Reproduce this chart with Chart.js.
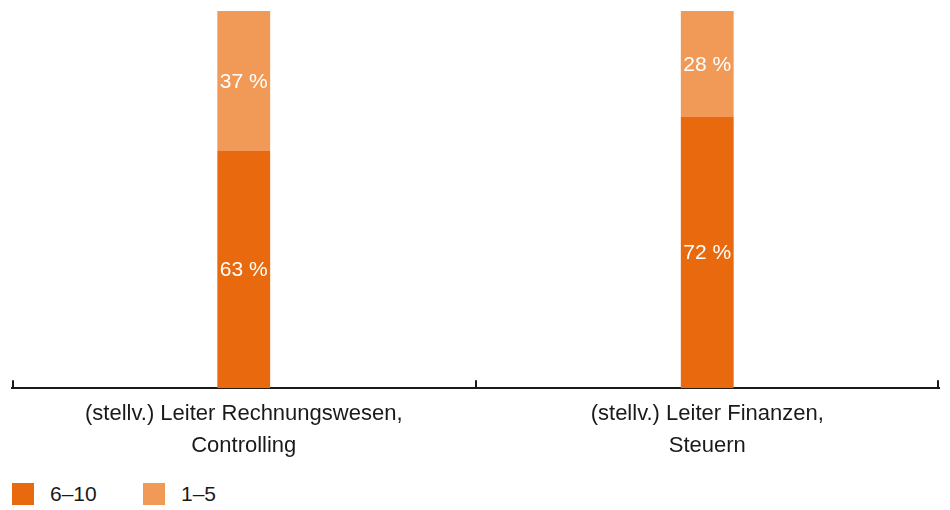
<!DOCTYPE html>
<html>
<head>
<meta charset="utf-8">
<script src="https://cdn.jsdelivr.net/npm/chart.js@4/dist/chart.umd.min.js"></script>
<style>
  html, body { margin:0; padding:0; background:#fff; }
  body { width:950px; height:510px; position:relative; overflow:hidden; font-family:"Liberation Sans", Arial, sans-serif; }
  #wrap { position:absolute; left:0; top:0; width:950px; height:464px; }
  .legend { position:absolute; top:483px; left:12px; display:flex; font-size:21px; color:#1a1a1a; }
  .legend .item { display:flex; align-items:center; height:22px; }
  .legend .box { width:22px; height:22px; margin-right:16px; }
</style>
</head>
<body>
<div id="wrap"><canvas id="chart" width="950" height="464"></canvas></div>
<div class="legend" id="legend"></div>
<script>
// Daten
const categories = [
  ['(stellv.) Leiter Rechnungswesen,', 'Controlling'],
  ['(stellv.) Leiter Finanzen,', 'Steuern']
];
const seriesNames = ['6–10', '1–5'];
const values6to10 = [63, 72];
const values1to5 = [37, 28];
const colors = ['#E9690E', '#F19A57'];

const labelPlugin = {
  id: 'barLabels',
  afterDatasetsDraw(chart) {
    let ctx = chart.ctx;
    ctx.save();
    ctx.fillStyle = '#fff';
    ctx.font = '21px "Liberation Sans", Arial, sans-serif';
    ctx.textAlign = 'center';
    ctx.textBaseline = 'middle';
    chart.data.datasets.forEach((ds, i) => {
      chart.getDatasetMeta(i).data.forEach((bar, j) => {
        let mid = (bar.y + bar.base) / 2;
        ctx.fillText(ds.data[j] + ' %', bar.x, mid + 1);
      });
    });
    ctx.restore();
  }
};

// kleine Striche nach oben an den Kategoriegrenzen
const tickPlugin = {
  id: 'upTicks',
  afterDraw(chart) {
    let x = chart.scales.x, ctx = chart.ctx;
    let n = chart.data.labels.length;
    ctx.save();
    ctx.strokeStyle = '#1a1a1a';
    ctx.lineWidth = 2;
    for (let i = 0; i <= n; i++) {
      let px = Math.round(x.left + i * x.width / n);
      if (i === n) px -= 1;
      if (i === 0) px += 1;
      ctx.beginPath();
      ctx.moveTo(px, x.top - 8);
      ctx.lineTo(px, x.top);
      ctx.stroke();
    }
    ctx.restore();
  }
};

new Chart(document.getElementById('chart').getContext('2d'), {
  type: 'bar',
  data: {
    labels: categories,
    datasets: [
      { label: seriesNames[0], data: values6to10, backgroundColor: colors[0] },
      { label: seriesNames[1], data: values1to5, backgroundColor: colors[1] }
    ]
  },
  options: {
    responsive: false,
    animation: false,
    layout: { padding: { left: 12, right: 11, top: 11, bottom: 0 } },
    datasets: { bar: { barPercentage: 0.114, categoryPercentage: 1 } },
    plugins: { legend: { display: false }, tooltip: { enabled: false } },
    scales: {
      x: {
        stacked: true,
        grid: { display: false },
        border: { display: true, color: '#1a1a1a', width: 2 },
        ticks: {
          color: '#1a1a1a',
          padding: 2,
          font: { family: '"Liberation Sans", Arial, sans-serif', size: 22, lineHeight: 1.45 }
        }
      },
      y: { stacked: true, display: false, min: 0, max: 100 }
    }
  },
  plugins: [labelPlugin, tickPlugin]
});

let lg = document.getElementById('legend');
seriesNames.forEach((name, i) => {
  let it = document.createElement('div');
  it.className = 'item';
  it.style.width = i === 0 ? '131px' : 'auto';
  it.innerHTML = '<span class="box" style="background:' + colors[i] + '"></span>' + name;
  lg.appendChild(it);
});
</script>
</body>
</html>
